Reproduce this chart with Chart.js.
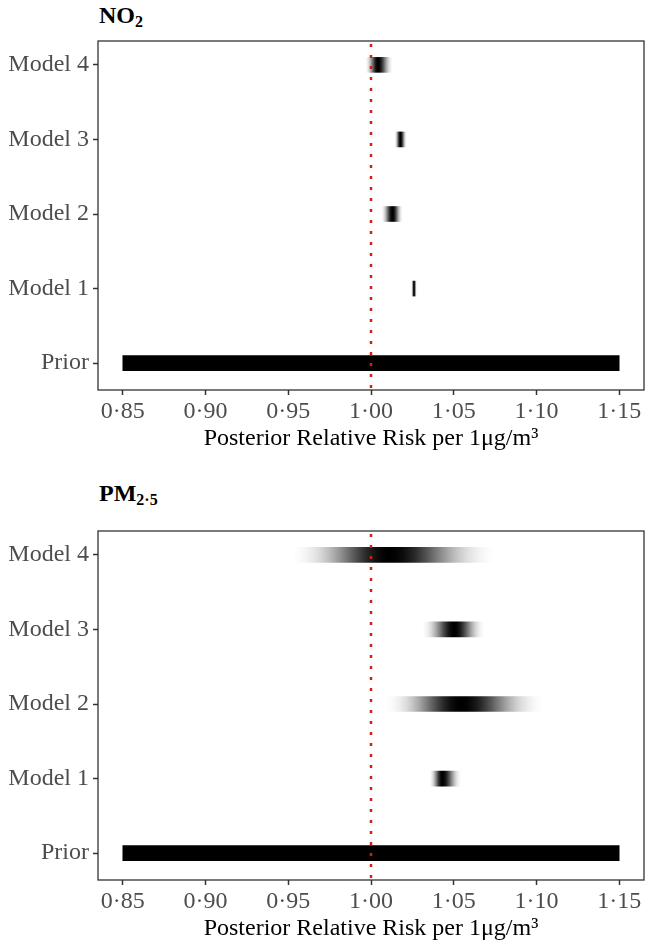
<!DOCTYPE html>
<html>
<head>
<meta charset="utf-8">
<script src="https://cdn.jsdelivr.net/npm/chart.js@4/dist/chart.umd.min.js"></script>
<style>
  body { margin: 0; background: #fff; width: 645px; height: 948px; position: relative; overflow: hidden; font-family: 'Liberation Serif', 'Times New Roman', serif; }
  canvas { position: absolute; left: 0; }
  .title { position: absolute; left: 99px; font-weight: bold; font-size: 24px; line-height: 28px; color: #000; }
  .title sub { font-size: 16px; vertical-align: -4px; line-height: 0; }
</style>
</head>
<body>
<div class="title" style="top:1px">NO<sub>2</sub></div>
<canvas id="chartNO2" width="645" height="458" style="top:0"></canvas>
<div class="title" style="top:479px">PM<sub>2·5</sub></div>
<canvas id="chartPM" width="645" height="458" style="top:490px"></canvas>
<script>
// Posterior density strips, NO2 and PM2.5 panels

const categories = ['Prior', 'Model 1', 'Model 2', 'Model 3', 'Model 4'];
const xTicks = [0.85, 0.90, 0.95, 1.00, 1.05, 1.10, 1.15];
const priorRange = [0.85, 1.15];
const refLine = 1.00;

// strips for Model 1..4: lower end, densest point, upper end
const no2Low  = [1.0243, 1.0062, 1.0142, 0.9966];
const no2Peak = [1.0260, 1.0130, 1.0178, 1.0042];
const no2High = [1.0277, 1.0192, 1.0216, 1.0132];

const pmLow  = [1.0353, 1.0094, 1.0310, 0.9530];
const pmPeak = [1.0431, 1.0546, 1.0504, 1.0112];
const pmHigh = [1.0546, 1.1035, 1.0685, 1.0740];

const serif = 'Liberation Serif';

// fade from black at the peak to white at both ends
function stripFill(ctx) {
  const chart = ctx.chart;
  const raw = ctx.raw;
  if (!chart.chartArea || !raw || raw.peak === undefined) return '#000';
  const xs = chart.scales.x;
  const x0 = xs.getPixelForValue(raw.x[0]);
  const x1 = xs.getPixelForValue(raw.x[1]);
  const xp = xs.getPixelForValue(raw.peak);
  const w = x1 - x0;
  const g = chart.ctx.createLinearGradient(x0, 0, x1, 0);
  for (let k = 0; k <= 16; k++) {
    const t = k / 16;
    const a = (Math.exp(-3 * t * t) * (1 - t * t * t * t)).toFixed(3);
    g.addColorStop(Math.max(0, (xp - x0) * (1 - t) / w), `rgba(0,0,0,${a})`);
    g.addColorStop(Math.min(1, ((xp - x0) + (x1 - xp) * t) / w), `rgba(0,0,0,${a})`);
  }
  return g;
}

const frame = {
  id: 'frame',
  afterDatasetsDraw(chart) {
    const { ctx, chartArea: a, scales: { x } } = chart;
    const px = x.getPixelForValue(refLine);
    ctx.save();
    ctx.strokeStyle = '#d01f1f';
    ctx.lineWidth = 2.5;
    ctx.setLineDash([3, 8]);
    ctx.beginPath();
    ctx.moveTo(px, a.top + 3);
    ctx.lineTo(px, a.bottom);
    ctx.stroke();
    ctx.setLineDash([]);
    ctx.strokeStyle = '#333';
    ctx.lineWidth = 1.3;
    ctx.strokeRect(a.left, a.top, a.right - a.left, a.bottom - a.top);
    ctx.restore();
  }
};

function makePanel(id, low, peak, high) {
  const strips = low.map((lo, i) => ({ x: [lo, high[i]], y: i + 1, peak: peak[i] }));
  return new Chart(document.getElementById(id), {
    type: 'bar',
    data: {
      datasets: [
        { data: [{ x: priorRange, y: 0 }], backgroundColor: '#000' },
        { data: strips, backgroundColor: stripFill }
      ]
    },
    options: {
      indexAxis: 'y',
      responsive: false,
      animation: false,
      layout: { padding: { top: 41, right: 1, left: 0, bottom: 0 } },
      plugins: { legend: { display: false }, tooltip: { enabled: false } },
      datasets: { bar: { barThickness: 15, grouped: false, borderWidth: 0 } },
      scales: {
        x: {
          type: 'linear', min: 0.835, max: 1.165,
          afterBuildTicks: s => { s.ticks = xTicks.map(v => ({ value: v })); },
          afterFit: s => { s.height = 68; },
          grid: { drawOnChartArea: false, tickLength: 5, tickColor: '#333', tickWidth: 1.5 },
          border: { display: false },
          ticks: {
            color: '#4d4d4d', padding: 2, maxRotation: 0, autoSkip: false,
            font: { family: serif, size: 24 },
            callback: v => v.toFixed(2).replace('.', '·')
          },
          title: {
            display: true, text: 'Posterior Relative Risk per 1μg/m³', color: '#000',
            font: { family: serif, size: 24 }, padding: { top: 0, bottom: 5 }
          }
        },
        y: {
          type: 'linear', min: -0.36, max: 4.32, offset: false,
          afterBuildTicks: s => { s.ticks = categories.map((c, i) => ({ value: i })); },
          afterFit: s => { s.width = 98; },
          grid: { offset: false, drawOnChartArea: false, tickLength: 5, tickColor: '#333', tickWidth: 1.5 },
          border: { display: false },
          ticks: {
            color: '#4d4d4d', padding: 4, autoSkip: false,
            font: { family: serif, size: 24 },
            callback: v => categories[v]
          }
        }
      }
    },
    plugins: [frame]
  });
}

makePanel('chartNO2', no2Low, no2Peak, no2High);
makePanel('chartPM', pmLow, pmPeak, pmHigh);
</script>
</body>
</html>
